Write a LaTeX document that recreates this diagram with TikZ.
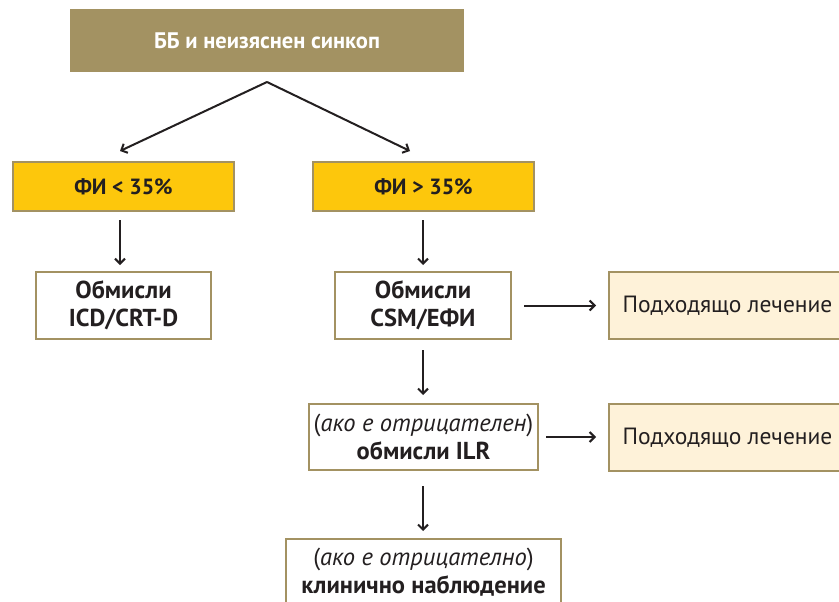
\documentclass[tikz,border=0pt]{standalone}
\usepackage{fontspec}
\setmainfont{PT Sans}
\usetikzlibrary{arrows.meta}
\definecolor{tanc}{HTML}{A39262}
\definecolor{goldc}{HTML}{FDC70C}
\definecolor{creamc}{HTML}{FEF2D9}
\definecolor{txtc}{HTML}{231F20}
\tikzset{
  basebox/.style={rectangle, draw=tanc, line width=2pt, inner sep=0pt, align=center, text=txtc},
  headbox/.style={basebox, fill=tanc, text=white, font=\fontsize{22.5}{26}\selectfont\bfseries},
  goldbox/.style={basebox, fill=goldc, font=\fontsize{22}{26}\selectfont\bfseries},
  whitebox/.style={basebox, fill=white, font=\fontsize{24.5}{28}\selectfont},
  creambox/.style={basebox, fill=creamc, font=\fontsize{23.5}{26}\selectfont},
  arr/.style={draw=txtc, line width=2pt, -{Straight Barb[length=5pt,width=10pt]}}
}
\begin{document}
\begin{tikzpicture}[x=1pt,y=-1pt]
\useasboundingbox (0,0) rectangle (839,602);
\clip (0,0) rectangle (839,602);
\fill[white] (0,0) rectangle (839,602);
\node[headbox, minimum width=392pt, minimum height=61pt] (top) at (267,40.5) {ББ и неизяснен синкоп};
\node[goldbox, minimum width=221pt, minimum height=49pt] (fi1) at (123.5,186.5) {ФИ < 35\%};
\node[goldbox, minimum width=221pt, minimum height=49pt] (fi2) at (423.5,186.5) {ФИ > 35\%};
\node[whitebox, minimum width=175pt, minimum height=67pt] (icd) at (123.5,305.5) {\textbf{Обмисли}\\\textbf{ICD/CRT-D}};
\node[whitebox, minimum width=176pt, minimum height=67pt] (csm) at (423,305.5) {\textbf{Обмисли}\\\textbf{CSM/ЕФИ}};
\node[creambox, minimum width=237pt, minimum height=67pt] (p1) at (727.5,305.5) {Подходящо лечение};
\node[whitebox, minimum width=229pt, minimum height=66pt] (ilr) at (423.5,437) {(\textit{ако е отрицателен})\\\textbf{обмисли ILR}};
\node[creambox, minimum width=237pt, minimum height=67pt] (p2) at (727.5,437.5) {Подходящо лечение};
\node[whitebox, minimum width=275pt, minimum height=66pt] (obs) at (423.5,572) {(\textit{ако е отрицателно})\\\textbf{клинично наблюдение}};
\draw[arr] ([yshift=-10pt]top.south) -- ([xshift=-3.5pt,yshift=10pt]fi1.north);
\draw[arr] ([yshift=-10pt]top.south) -- ([xshift=-13.5pt,yshift=10pt]fi2.north);
\draw[arr] ([xshift=-3.5pt,yshift=-8pt]fi1.south) -- ([xshift=-3.5pt,yshift=6pt]icd.north);
\draw[arr] ([xshift=-0.5pt,yshift=-8pt]fi2.south) -- ([yshift=6pt]csm.north);
\draw[arr] ([yshift=-10pt]csm.south) -- ([xshift=-0.5pt,yshift=8pt]ilr.north);
\draw[arr] ([xshift=-0.5pt,yshift=-15pt]ilr.south) -- ([xshift=-0.5pt,yshift=7pt]obs.north);
\draw[arr] ([xshift=12pt]csm.east) -- ([xshift=-12pt]p1.west);
\draw[arr] ([xshift=7pt]ilr.east) -- ([xshift=-12pt,yshift=0.5pt]p2.west);
\end{tikzpicture}
\end{document}
